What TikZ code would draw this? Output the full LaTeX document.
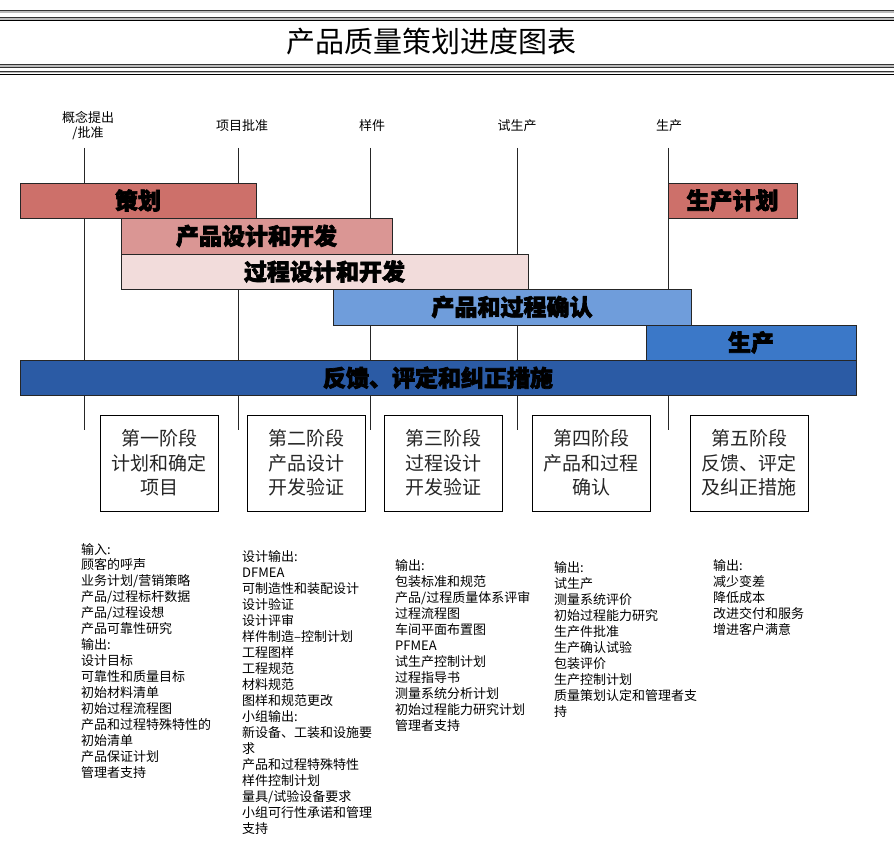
\documentclass[tikz,border=0pt]{standalone}
\usepackage{fontspec}
\setmainfont{Noto Sans CJK SC}
\newfontfamily\heavy[FakeBold=3]{Noto Sans CJK SC}
\definecolor{cA}{HTML}{CD706A}
\definecolor{cB}{HTML}{DA9694}
\definecolor{cC}{HTML}{F2DCDB}
\definecolor{cD}{HTML}{6F9DDB}
\definecolor{cE}{HTML}{3B78C8}
\definecolor{cF}{HTML}{2B5BA5}
\definecolor{stripeD}{HTML}{333333}
\definecolor{stripeL}{HTML}{BBBBBB}
\begin{document}
\begin{tikzpicture}[x=1pt,y=-1pt,
  lbl/.style={anchor=base,inner sep=0,font=\fontsize{13}{13}\selectfont},
  mline/.style={draw=black!85,line width=0.8pt},
  bar/.style={draw=black!85,line width=0.8pt,inner sep=0,
    font=\heavy\bfseries\fontsize{23}{23}\selectfont,text=black},
  phasebox/.style={draw=black,line width=0.8pt,fill=white,minimum width=118pt,
    minimum height=96pt,inner sep=0,align=center,text=black!85,
    font=\fontsize{19}{24.5}\selectfont},
  txt/.style={anchor=base west,inner sep=0,font=\fontsize{13}{13}\selectfont}]
\useasboundingbox (0,0) rectangle (894,848);
\fill[white] (0,0) rectangle (894,848);
% title stripes
\fill[stripeD] (0,10) rectangle (894,11);
\fill[stripeL] (0,11) rectangle (894,13);
\fill[stripeD] (0,17) rectangle (894,18.3);
\fill[stripeL] (0,18.5) rectangle (894,20);
\fill[black] (0,20.5) rectangle (894,21.5);
\fill[stripeD] (0,64) rectangle (894,65);
\fill[stripeL] (0,65) rectangle (894,67);
\fill[stripeD] (0,67.2) rectangle (894,68.3);
\fill[stripeD] (0,70.7) rectangle (894,71.7);
\fill[stripeL] (0,72) rectangle (894,73.5);
\fill[black] (0,74.3) rectangle (894,75.3);
\node[anchor=base,inner sep=0,font=\fontsize{29}{29}\selectfont] (title) at (431.5,53) {产品质量策划进度图表};
% milestone labels
\node[lbl] (ms1a) at (88,123) {概念提出};
\node[lbl] (ms1b) at (88,138) {/批准};
\node[lbl] (ms2) at (242,131) {项目批准};
\node[lbl] (ms3) at (372,131) {样件};
\node[lbl] (ms4) at (517,131) {试生产};
\node[lbl] (ms5) at (669,131) {生产};
% milestone lines
\foreach \x [count=\i] in {84,238,370,517,668}{
  \coordinate (t\i) at (\x,148);
  \coordinate (u\i) at (\x,430);
  \draw[mline] (t\i) -- (u\i);
}
% bars
\node[bar,fill=cA,minimum width=236pt,minimum height=35pt] (b1) at (138,200.5) {策划};
\node[bar,fill=cA,minimum width=129pt,minimum height=35pt] (b2) at (732.5,200.5) {生产计划};
\node[bar,fill=cB,minimum width=271pt,minimum height=36pt] (b3) at (256.5,236) {产品设计和开发};
\node[bar,fill=cC,minimum width=407pt,minimum height=35pt] (b4) at (324.5,271.5) {过程设计和开发};
\node[bar,fill=cD,minimum width=358pt,minimum height=36pt] (b5) at (512,307) {产品和过程确认};
\node[bar,fill=cE,minimum width=210pt,minimum height=35pt] (b6) at (751,342.5) {生产};
\node[bar,fill=cF,minimum width=836pt,minimum height=35.5pt] (b7) at (438,377.75) {反馈、评定和纠正措施};
% phase boxes
\node[phasebox] (p1) at (159,463) {第一阶段\\计划和确定\\项目};
\node[phasebox] (p2) at (306,463) {第二阶段\\产品设计\\开发验证};
\node[phasebox] (p3) at (443,463) {第三阶段\\过程设计\\开发验证};
\node[phasebox] (p4) at (591,463) {第四阶段\\产品和过程\\确认};
\node[phasebox] (p5) at (749,463) {第五阶段\\反馈、评定\\及纠正措施};
% columns
\foreach \t [count=\i] in {输入:,顾客的呼声,业务计划/营销策略,产品/过程标杆数据,产品/过程设想,产品可靠性研究,输出:,设计目标,可靠性和质量目标,初始材料清单,初始过程流程图,产品和过程特殊特性的,初始清单,产品保证计划,管理者支持}
  \node[txt] (ca\i) at (81,{554+15.93*(\i-1)}) {\t};
\foreach \t [count=\i] in {设计输出:,DFMEA,可制造性和装配设计,设计验证,设计评审,样件制造–控制计划,工程图样,工程规范,材料规范,图样和规范更改,小组输出:,新设备、工装和设施要,求,产品和过程特殊特性,样件控制计划,量具/试验设备要求,小组可行性承诺和管理,支持}
  \node[txt] (cb\i) at (242,{561+16*(\i-1)}) {\t};
\foreach \t [count=\i] in {输出:,包装标准和规范,产品/过程质量体系评审,过程流程图,车间平面布置图,PFMEA,试生产控制计划,过程指导书,测量系统分析计划,初始过程能力研究计划,管理者支持}
  \node[txt] (cc\i) at (395,{570+16*(\i-1)}) {\t};
\foreach \t [count=\i] in {输出:,试生产,测量系统评价,初始过程能力研究,生产件批准,生产确认试验,包装评价,生产控制计划,质量策划认定和管理者支,持}
  \node[txt] (cd\i) at (554,{572+16*(\i-1)}) {\t};
\foreach \t [count=\i] in {输出:,减少变差,降低成本,改进交付和服务,增进客户满意}
  \node[txt] (ce\i) at (713,{570+16*(\i-1)}) {\t};
\end{tikzpicture}
\end{document}
